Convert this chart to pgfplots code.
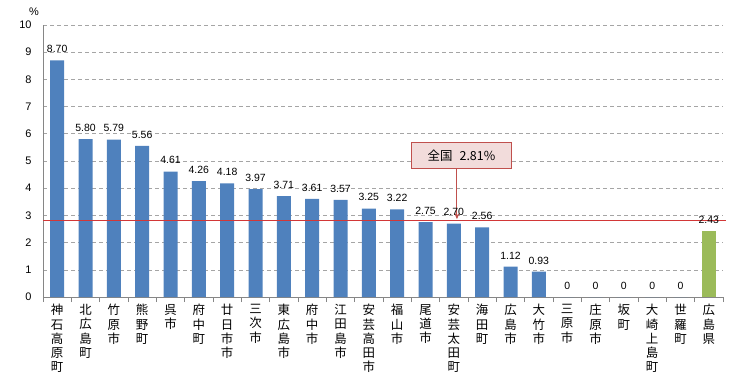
\documentclass[border=0pt]{standalone}
\usepackage{fontspec}
\setmainfont{Liberation Sans}
\newfontfamily\cjk{Noto Sans CJK JP}
\usepackage{pgfplots}
\pgfplotsset{compat=1.18}
\usepackage{pgfplotstable}
\usetikzlibrary{arrows.meta}

\definecolor{barblue}{RGB}{79,129,189}
\definecolor{bargreen}{RGB}{155,187,89}
\definecolor{axgray}{RGB}{134,134,134}
\definecolor{gridgray}{RGB}{165,165,165}
\definecolor{refred}{RGB}{210,55,55}
\definecolor{boxfill}{RGB}{242,220,219}
\definecolor{boxdraw}{RGB}{192,80,77}

\pgfplotstableread{
x y lab
0 8.70 8.70
1 5.80 5.80
2 5.79 5.79
3 5.56 5.56
4 4.61 4.61
5 4.26 4.26
6 4.18 4.18
7 3.97 3.97
8 3.71 3.71
9 3.61 3.61
10 3.57 3.57
11 3.25 3.25
12 3.22 3.22
13 2.75 2.75
14 2.70 2.70
15 2.56 2.56
16 1.12 1.12
17 0.93 0.93
18 0 0
19 0 0
20 0 0
21 0 0
22 0 0
}\datablue
\pgfplotstableread{
x y lab
23 2.43 2.43
}\datagreen

\begin{document}
\begin{tikzpicture}
\begin{axis}[
  scale only axis, width=680bp, height=272bp,
  xmin=-0.5, xmax=23.5, ymin=0, ymax=10,
  axis lines=left, axis line style={-, axgray, line width=0.8bp},
  ytick={0,1,...,10}, ymajorgrids,
  grid style={gridgray, dash pattern=on 4bp off 3bp, line width=0.6bp},
  xtick={0,1,...,23},
  xticklabels={{神\\石\\高\\原\\町},{北\\広\\島\\町},{竹\\原\\市},{熊\\野\\町},{呉\\市},{府\\中\\町},{廿\\日\\市\\市},{三\\次\\市},{東\\広\\島\\市},{府\\中\\市},{江\\田\\島\\市},{安\\芸\\高\\田\\市},{福\\山\\市},{尾\\道\\市},{安\\芸\\太\\田\\町},{海\\田\\町},{広\\島\\市},{大\\竹\\市},{三\\原\\市},{庄\\原\\市},{坂\\町},{大\\崎\\上\\島\\町},{世\\羅\\町},{広\\島\\県}},
  major tick length=0pt,
  minor xtick={-0.5,0.5,...,23.5},
  minor tick length=5bp, tick align=outside,
  minor tick style={axgray, line width=0.8bp},
  xticklabel style={font=\cjk\fontsize{12.5}{14.2}\selectfont, align=center, anchor=north, yshift=-4bp},
  yticklabel style={font=\fontsize{11}{13}\selectfont, xshift=-8bp},
  /pgf/number format/assume math mode=true,
  point meta=explicit symbolic,
  nodes near coords,
  every node near coord/.append style={font=\fontsize{10.5}{12}\selectfont, black, yshift=4bp},
  clip=false,
]
\addplot[ybar, bar width=14bp, fill=barblue, draw=none] table[x=x, y=y, meta=lab]{\datablue};
\addplot[ybar, bar width=14bp, fill=bargreen, draw=none] table[x=x, y=y, meta=lab]{\datagreen};
\addplot[refred, line width=1bp, nodes near coords={}] coordinates {(-0.5,2.81) (23.6,2.81)};
\draw[boxdraw, line width=1bp, -{Stealth[length=6bp,width=5bp]}] (axis cs:14.11,4.71) -- (axis cs:14.11,2.86);
\node[draw=boxdraw, fill=boxfill, line width=0.8bp, minimum width=100bp, minimum height=26bp, inner sep=0pt, font=\cjk\fontsize{12.5}{14}\selectfont] at (axis cs:14.27,5.19) {全国\hspace{7bp}2.81\%};
\node[font=\fontsize{11}{13}\selectfont] at ([xshift=-9bp, yshift=13bp]rel axis cs:0,1) {\%};
\end{axis}
\pgfresetboundingbox
\path (-43bp,-82bp) rectangle (713bp,297bp);
\end{tikzpicture}
\end{document}
